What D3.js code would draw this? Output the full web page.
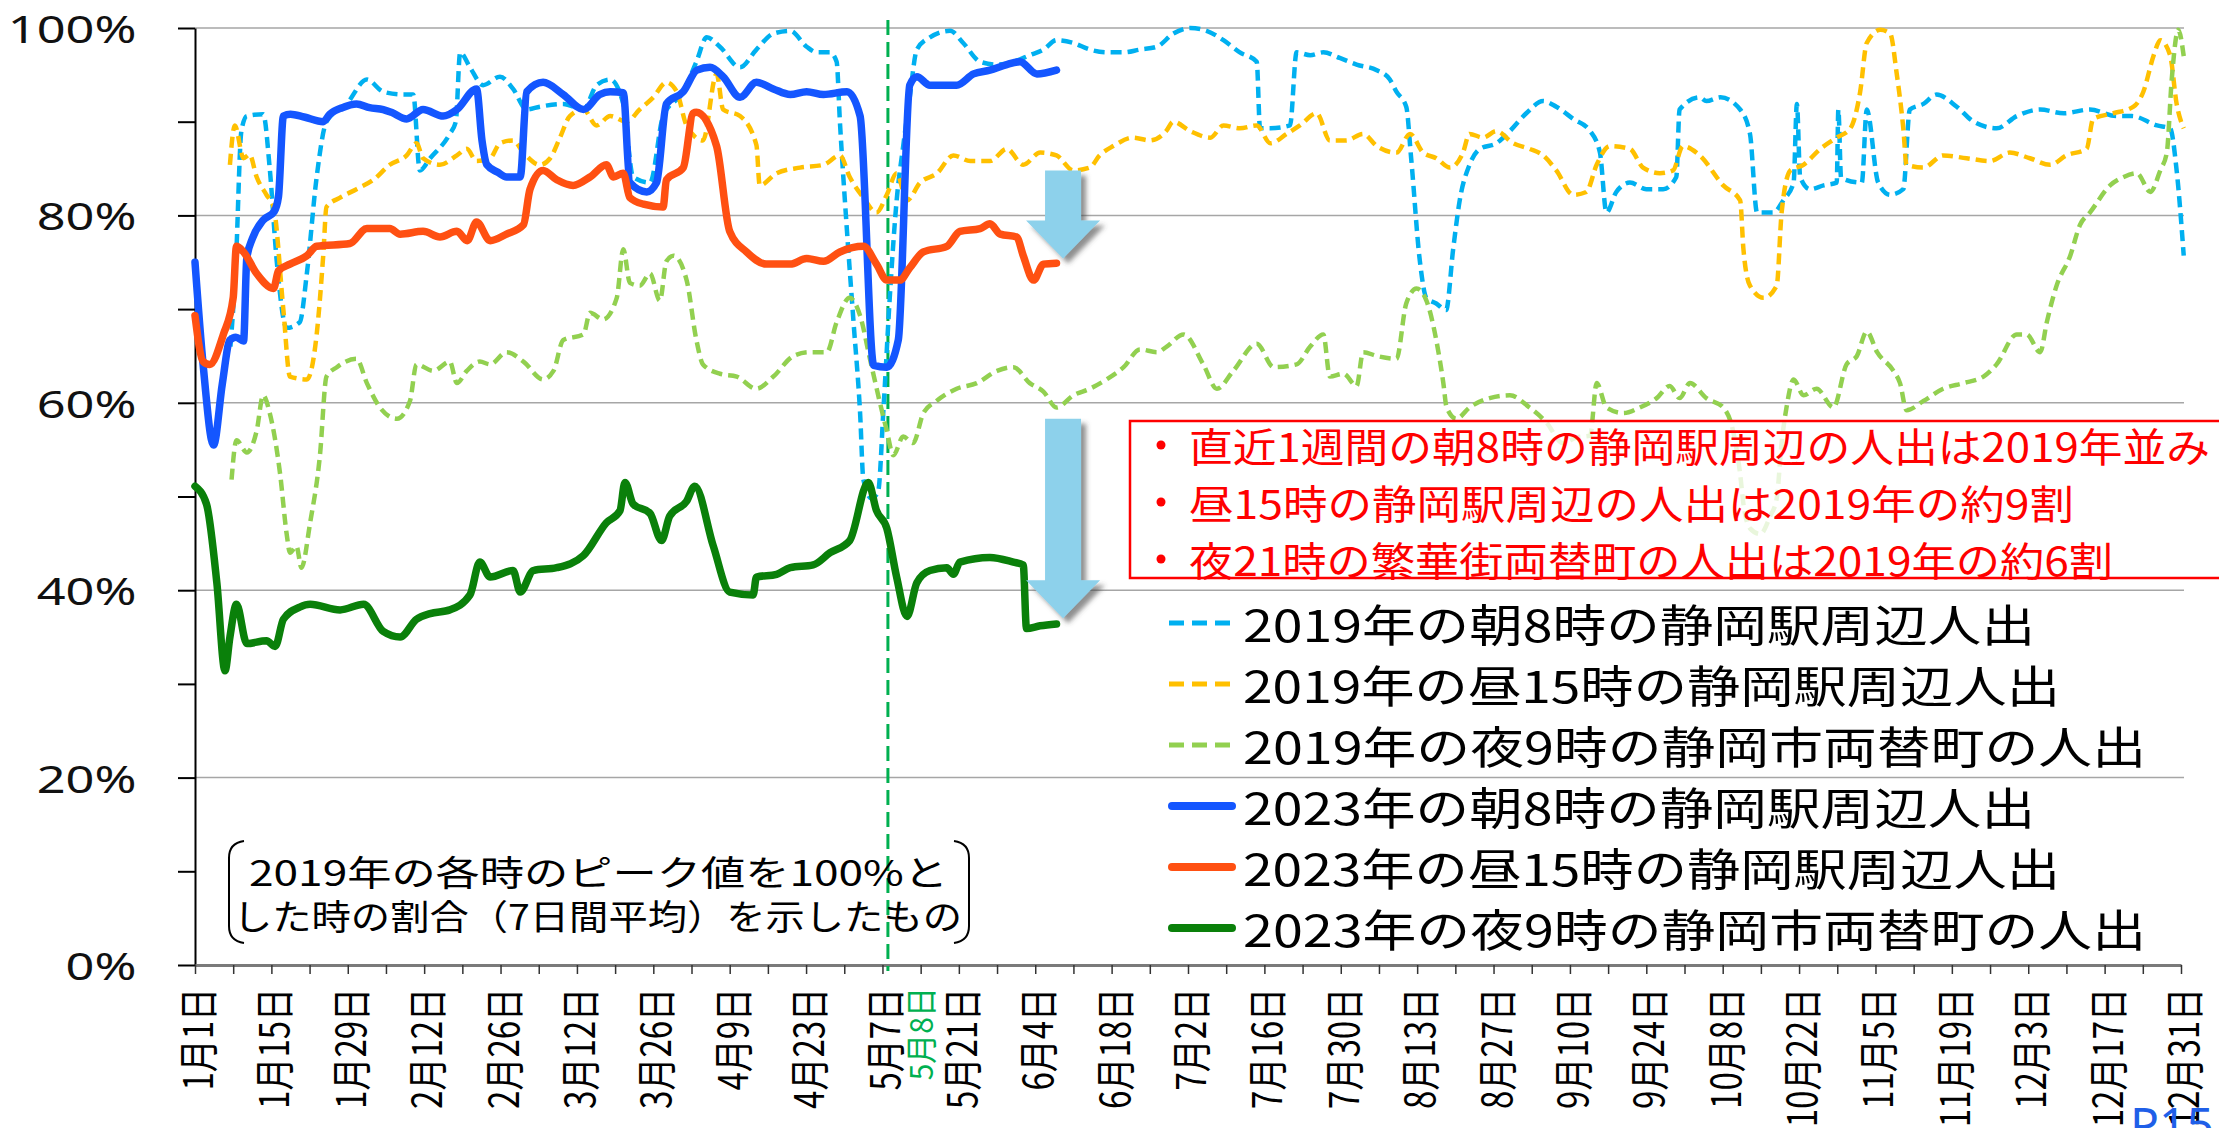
<!DOCTYPE html>
<html>
<head>
<meta charset="utf-8">
<script src="https://cdn.jsdelivr.net/npm/d3@7"></script>
<style>
  html, body { margin: 0; padding: 0; background: #fff; }
  svg { display: block; }
</style>
</head>
<body>
<svg id="chart" width="2219" height="1128"></svg>
<script>
// x = day of year (0 = 1月1日), y = % of the 2019 peak (7-day average)

// 2019 朝8時 静岡駅周辺
var am2019 = [[6.5,66],[7.5,75],[8.5,89],[9.5,90.6],[12.5,90.8],[13.7,85],[15,75],[16.8,68],[19.2,68.6],[20.5,73.8],[22.3,84.1],[24.1,90],[27.8,91.9],[31.5,94.5],[34.5,93.2],[38.2,92.9],[40,92.9],[41.2,84.8],[43.1,86.1],[46.7,88.7],[47.8,90],[48.6,97.4],[50.4,95.8],[52.8,93.9],[55.9,94.8],[58.3,93.5],[60.8,91.3],[63.2,91.6],[67.5,91.9],[71.2,91.3],[73.6,93.9],[76.1,94.5],[78.5,91.9],[80.3,84.1],[83.4,83.5],[85.8,90.6],[89.5,93.2],[91.9,96.4],[93.8,99],[96.2,98],[99.9,95.8],[102.9,97.7],[106,99.4],[109.1,99.7],[112.1,98],[114,97.4],[116.4,97.4],[117.6,96.4],[118.2,90],[119.5,78.3],[120.7,68.6],[121.9,58.9],[122.5,51.8],[124,49.8],[125.2,50.5],[126.2,59.5],[127.4,71.8],[128.6,81.6],[129.8,87.4],[131,92.6],[132.3,97.7],[134.7,99],[138.4,99.7],[140.8,98.4],[143.9,96.4],[146.9,96.1],[150,96.4],[153,97.1],[155.5,97.7],[157.9,98.7],[161,98.4],[164,97.7],[167.1,97.4],[170.2,97.4],[173.2,97.7],[176.3,98],[179.3,99.4],[182.4,100],[185.4,99.7],[188.5,98.7],[191.5,97.4],[194.6,96.4],[195.2,89.3],[197.1,89.3],[200.7,89.6],[201.9,97.4],[204.4,97.1],[206.8,97.4],[209.8,96.8],[212.9,96.1],[216.6,95.5],[219,94.5],[220.2,93.2],[222,91.6],[222.9,86.1],[224.5,75.1],[225.7,71.2],[227.5,70.6],[229.3,69.9],[230.6,76.4],[231.8,81.6],[233.6,85.4],[235.5,87.1],[238.5,87.7],[241,89],[244,90.9],[247.1,92.2],[249.5,91.6],[252.6,90.3],[255.7,89],[257.5,86.7],[258.7,80.3],[260.5,82.5],[263,83.5],[266,82.8],[269.1,82.8],[271.5,84.1],[272.1,91.3],[275.8,92.6],[277,92.2],[279.6,92.6],[283.2,91.3],[285,88.7],[286.3,80.3],[289.3,80.3],[291.1,81.6],[293,83.5],[293.6,91.9],[294.2,84.1],[296,82.8],[298.5,83.2],[300.9,83.5],[301.2,91.3],[301.7,84],[305.5,83.5],[306.4,91.3],[308.5,83.5],[310.7,82.2],[313.1,82.8],[314.3,91.3],[316.8,91.9],[319.2,92.9],[322.9,91.6],[326,90],[330.2,89.3],[333.9,90.6],[338.2,91.3],[342.5,90.9],[347.3,91.3],[352.2,90.6],[355,90.6],[359.6,89.6],[362,89.3],[363.2,84.8],[364.5,75.7]];

// 2019 昼15時 静岡駅周辺
var pm2019 = [[6.4,85.4],[7.3,89.6],[8.9,86.1],[10,86.5],[11.3,84.1],[13.1,82.2],[14.4,80.9],[16.2,69.9],[17.4,62.8],[20.5,62.5],[22.3,67.3],[23.5,75.7],[24.1,80.9],[26.6,81.9],[29.6,82.8],[32.7,83.8],[35.7,85.4],[38.8,86.4],[40.6,87.7],[41.8,86.1],[44.9,85.4],[48,86.4],[49.8,87.1],[51.6,85.8],[54.1,86.1],[55.9,87.7],[58.3,88],[60.2,86.7],[63.2,85.4],[65.1,86.1],[66.9,88.3],[68.7,90.6],[71.2,91.3],[73.6,89.6],[76.1,90.6],[79.1,90],[81.5,91.3],[84,92.6],[86.4,94.2],[88.3,93.2],[90.1,89.6],[93.1,88],[95.6,95.1],[96.8,91.3],[99.9,90.6],[102.9,87.5],[103.5,83.2],[106.6,84.5],[110.9,85.1],[115.2,85.4],[118.2,86.4],[120,84.1],[122.5,81.9],[124.9,80.3],[126.8,82.2],[128.6,84.5],[130.5,81.6],[132.9,83.5],[136,84.5],[139,86.4],[142.1,85.8],[145.7,85.8],[148.8,87.1],[151.8,85.4],[154.9,86.7],[157.9,86.4],[161,84.8],[164,85.1],[165.8,86.4],[168.3,87.4],[171.9,88.3],[175,88],[178,89],[179.3,90],[182.4,89],[186.1,88.3],[188.5,89.6],[191.5,89.3],[194.6,89.6],[197.1,87.7],[200.1,88.7],[202.5,89.6],[205.6,90.9],[208,88],[211,88],[214.1,88.7],[216.6,87.4],[220.2,86.7],[222.7,88.7],[225.1,86.7],[227.5,86.1],[230,85.1],[232.4,86.7],[233.6,88.7],[236.1,88.3],[238.5,89],[241.6,87.7],[244.6,87.1],[247.1,86.4],[249.5,84.8],[252.6,82.2],[255,82.5],[256.9,85.4],[259.3,87.4],[263,87.1],[265.4,85.1],[268.5,84.5],[270.9,84.8],[272.7,87.4],[275.8,86.4],[280.1,83.2],[283.2,81.6],[283.8,76.4],[285,72.5],[287.5,71.2],[289.9,72.5],[290.8,80.3],[292.4,84.8],[294.8,85.4],[297.9,87.1],[300.9,88.3],[303.4,89.3],[305.2,93.2],[306.4,98.4],[308.9,99.8],[310.7,99.4],[311.9,95.1],[313.1,89.3],[313.7,85.4],[316.8,85.1],[320.4,86.4],[324.7,86.1],[329,85.8],[332.6,86.7],[336.3,86.1],[340,85.4],[343,86.4],[346.7,87.1],[347.9,90.3],[351.6,90.9],[355.3,91.6],[357.1,93.2],[359,97.1],[360.2,98.7],[362,97.1],[363.2,91.9],[364.5,89.3]];

// 2019 夜9時 静岡市両替町
var night2019 = [[6.7,51.8],[7.6,56],[9.5,54.7],[11.3,57],[12.5,60.8],[13.7,58.9],[15.6,52.4],[16.8,46],[17.4,44],[18.6,44.7],[19.5,42.4],[21.1,47.2],[22.9,54.4],[24.1,62.8],[26,63.8],[29.6,64.7],[31.5,62.1],[33.9,59.5],[37,58.3],[39.4,60.2],[40.6,64.1],[43.7,63.4],[46.7,64.4],[48,62.1],[49.8,63.4],[52.2,64.4],[54.1,64.1],[57.1,65.4],[60.2,64.4],[63.8,62.5],[65.7,63.4],[67.5,66.7],[71.2,67.3],[72.4,69.6],[74.8,68.9],[77.3,71.2],[78.5,76.4],[79.7,72.8],[81.5,72.5],[83.4,73.8],[85.2,70.9],[86.4,75.1],[87.7,75.7],[90.1,73.1],[91.9,66.7],[93.1,64.1],[96.2,63.1],[99.3,62.8],[102.9,61.5],[106,62.8],[109.7,65],[112.7,65.4],[115.8,65.4],[117.6,68.6],[120,71.2],[121.9,69.3],[123.7,64.7],[125.5,60.1],[126.8,57],[128,54.4],[129.8,56.4],[131.6,55.7],[133.5,58.9],[135.9,60.2],[139.6,61.5],[143.3,62.1],[147,63.4],[150,63.8],[153,62.1],[155.5,61.2],[157.9,59.5],[161,60.8],[164,61.5],[167.1,62.5],[170.2,63.8],[173.2,65.7],[176.3,65.4],[178.1,66],[181.2,67.3],[184.8,64.1],[187.3,61.5],[190.3,63.4],[194.6,66.3],[197.7,63.8],[201.9,64.1],[204.4,66],[206.8,67.3],[208,62.8],[210.5,63.1],[212.9,61.8],[214.1,65.4],[216.6,65],[220.2,64.7],[222,70.6],[223.9,72.2],[225.7,70.9],[227.5,66.7],[228.8,62.1],[229.4,59.5],[231.2,58.3],[233.6,59.5],[237.3,60.5],[241,60.8],[244.6,59.5],[247.7,57.9],[250.7,55.7],[253.2,56.3],[255.7,56.5],[256.9,62.1],[258.7,59.5],[261.8,58.9],[264.8,59.5],[267.9,60.5],[270.3,61.8],[272.1,60.5],[274,62.1],[277,60.5],[280.1,59.5],[281.9,57],[283.2,52.4],[283.8,49.2],[285,46.6],[286.9,46],[288.7,47.9],[289.9,49.8],[290.8,55.7],[291.7,59.5],[293,62.5],[294.8,60.8],[297.2,61.5],[300.3,59.5],[302.7,64.1],[304.6,65],[306.4,67.6],[308.3,65.4],[311.3,63.4],[312.5,62.1],[313.7,59.2],[316.8,60.2],[320.4,61.5],[324.1,62.1],[327.8,62.8],[330.2,64.1],[333.9,67.3],[335.7,67.3],[338.2,65.4],[339.4,68.6],[341.2,72.5],[343.7,75.7],[345.5,79],[347.3,80.3],[351,83.2],[353.5,84.1],[355.9,84.5],[358.4,82.5],[360.2,84.8],[361.4,86.7],[362.3,94.5],[363.5,99.8],[364.5,97]];

// 2023 朝8時 静岡駅周辺
var am2023 = [[0,75],[1.5,64],[3.4,55.5],[5,62],[6.4,66.7],[7.5,67],[8.9,66.6],[9.5,75.5],[10.5,77.5],[12.5,79.5],[14.5,80.4],[15.3,82],[16.2,90.6],[17.5,90.8],[20,90.5],[23.5,90],[24.7,90.8],[27,91.5],[29.6,91.9],[32,91.5],[34.5,91.3],[36,91],[38.8,90.3],[41.8,91.3],[45.5,90.6],[48,91.3],[51.6,93.5],[52.6,88],[53.5,85.4],[55.5,84.6],[57.1,84.1],[59.6,84.1],[60.8,93.2],[63.8,94.2],[67.5,92.9],[71.2,91.3],[74.2,92.9],[76.1,93.2],[78.5,93.1],[79.7,83.5],[82.8,82.5],[84.6,83.5],[86.4,91.9],[89.5,93.2],[92,95.5],[94.4,95.8],[96.8,94.8],[99.9,92.6],[102.9,94.2],[106,93.5],[109.1,92.9],[112.1,93.2],[115.2,92.9],[119.5,93.2],[121.9,90.6],[124.4,64],[126.8,63.8],[128.9,66.7],[131,93.9],[132.3,94.8],[134.7,93.9],[139.6,93.9],[142.7,95.1],[145.7,95.5],[148.8,96.1],[151.2,96.4],[154.3,95.1],[157.9,95.5]];

// 2023 昼15時 静岡駅周辺
var pm2023 = [[0,69.3],[1.5,64.4],[2.7,64.1],[5.2,67.3],[7,71.2],[7.6,76.7],[8.9,76.1],[11.3,73.8],[14.4,72.2],[15.3,74.1],[17.4,74.8],[20.5,75.7],[22.3,76.7],[28.4,77],[31.5,78.6],[35.7,78.6],[37.6,78],[41.8,78.3],[44.9,77.7],[48,78.3],[49.9,77.3],[51.6,79.3],[54.1,77.3],[57.1,78],[60.2,79],[61.4,82.8],[63.8,84.8],[66.3,83.8],[69.3,83.2],[72.4,84.1],[75.4,85.4],[76.7,84.1],[78.5,84.5],[79.7,81.9],[82.2,81.2],[85.8,80.9],[86.4,83.8],[89.5,85.1],[91.3,90.9],[91.9,91],[95.6,87.4],[98,78.3],[101.1,76.1],[104.7,74.8],[109.1,74.8],[112.1,75.4],[115.2,75.1],[118.2,76.1],[122.5,76.7],[124.9,74.8],[126.8,73.1],[129.2,73.1],[131,74.4],[133.5,76.1],[137.8,76.7],[140.2,78.3],[143.9,78.6],[145.7,79.1],[147.6,78],[150.6,77.7],[151.8,75.7],[153.7,73.1],[155.5,74.8],[157.9,74.9]];

// 2023 夜9時 静岡市両替町
var night2023 = [[0,51.1],[2.1,49.2],[4,40.8],[5.5,31.4],[6.4,35],[7.6,38.5],[9.5,34.3],[13.1,34.6],[14.7,34],[16.2,36.9],[19.2,38.2],[21.1,38.5],[26.6,37.9],[30.9,38.5],[34.5,35.6],[37.6,35],[40.6,36.9],[43.1,37.5],[46.7,37.9],[50.4,39.5],[52.2,43],[54.1,41.4],[58.3,42.1],[59.6,39.8],[62,42.1],[66.3,42.4],[71.2,43.7],[75.4,47.2],[77.9,48.5],[78.8,51.5],[80.3,49.2],[83.4,48.2],[85.5,45.3],[87,47.9],[90.1,49.5],[91.6,51.1],[95,44.7],[98,39.8],[102.3,39.5],[102.9,41.4],[106.6,41.7],[109.1,42.4],[113.3,42.7],[116.4,44],[120,45.3],[123.4,51.5],[124.9,48.5],[126.8,46.6],[128.6,41.4],[130.5,37.2],[132.3,40.8],[134.7,42.1],[137.8,42.4],[139,41.7],[140.2,43],[145.7,43.5],[150,43],[151.8,42.7],[152.4,35.9],[154.9,36.2],[157.9,36.4]];

var seriesNames = ["2019年の朝8時の静岡駅周辺人出", "2019年の昼15時の静岡駅周辺人出", "2019年の夜9時の静岡市両替町の人出",
                   "2023年の朝8時の静岡駅周辺人出", "2023年の昼15時の静岡駅周辺人出", "2023年の夜9時の静岡市両替町の人出"];
var seriesColors = ["#00B0F0", "#FFC000", "#92D050", "#1456FF", "#FF5012", "#0A800A"];

// x tick labels, one every two weeks
var dateLabels = ["1月1日","1月15日","1月29日","2月12日","2月26日","3月12日","3月26日","4月9日","4月23日","5月7日","5月21日","6月4日","6月18日",
                  "7月2日","7月16日","7月30日","8月13日","8月27日","9月10日","9月24日","10月8日","10月22日","11月5日","11月19日","12月3日","12月17日","12月31日"];

var markDay = 127; // 5月8日
var notes = ["直近1週間の朝8時の静岡駅周辺の人出は2019年並み", "昼15時の静岡駅周辺の人出は2019年の約9割", "夜21時の繁華街両替町の人出は2019年の約6割"];
var noteLines = ["2019年の各時のピーク値を100%と", "した時の割合（7日間平均）を示したもの"];
// arrows: day, from value, to value
var arrows = [[159.1, 84.8, 75.4], [159.1, 58.3, 37.0]];

var JP = "'Noto Sans CJK JP', 'Noto Sans', sans-serif";

var svg = d3.select("#chart");
var x = d3.scaleLinear().domain([0, 364]).range([195, 2181]);
var y = d3.scaleLinear().domain([0, 100]).range([965, 28]);

var defs = svg.append("defs");
var sh = defs.append("filter").attr("id", "shadow").attr("x", "-30%").attr("y", "-30%").attr("width", "160%").attr("height", "160%");
sh.append("feDropShadow").attr("dx", 5).attr("dy", 5).attr("stdDeviation", 2.5)
  .attr("flood-color", "#444").attr("flood-opacity", 0.6);

// gridlines
svg.append("g").selectAll("line").data([20, 40, 60, 80, 100]).join("line")
  .attr("x1", x(0)).attr("x2", x(364) + 3)
  .attr("y1", d => y(d)).attr("y2", d => y(d))
  .attr("stroke", "#a6a6a6").attr("stroke-width", 1.5);

// y axis
var yAxis = svg.append("g").attr("transform", "translate(" + x(0) + ",0)")
  .call(d3.axisLeft(y).tickValues(d3.range(0, 101, 10)).tickSize(17).tickSizeOuter(0)
    .tickFormat(d => d % 20 === 0 ? d + "%" : ""));
yAxis.select(".domain").attr("stroke", "#000").attr("stroke-width", 2);
yAxis.selectAll(".tick line").attr("stroke", "#000").attr("stroke-width", 2);
yAxis.selectAll(".tick text")
  .attr("x", -44).attr("dy", "0.38em").attr("transform", "scale(1.33,1)")
  .style("font-family", "'Noto Sans', sans-serif").style("font-size", "38px").attr("fill", "#111");

// x axis
var xAxis = svg.append("g").attr("transform", "translate(0," + y(0) + ")")
  .call(d3.axisBottom(x).tickValues(d3.range(0, 365, 7)).tickSize(9).tickSizeOuter(0)
    .tickFormat((d, i) => i % 2 === 0 ? dateLabels[i / 2] : ""));
xAxis.select(".domain").attr("stroke", "#7a7a7a").attr("stroke-width", 3);
xAxis.selectAll(".tick line").attr("stroke", "#333").attr("stroke-width", 1.5);
xAxis.selectAll(".tick text")
  .attr("x", 0).attr("y", 0).attr("dy", 0)
  .attr("transform", "translate(0,23) scale(1.22,1) rotate(-90)")
  .attr("text-anchor", "end").attr("dominant-baseline", "central")
  .style("font-family", JP).style("font-size", "33px").attr("fill", "#000");

// 5/8 marker
svg.append("line")
  .attr("x1", x(markDay)).attr("x2", x(markDay)).attr("y1", 20).attr("y2", y(0) + 6)
  .attr("stroke", "#00B050").attr("stroke-width", 3).attr("stroke-dasharray", "15,7");
svg.append("text")
  .attr("transform", "translate(" + (x(markDay) + 31) + "," + (y(0) + 22) + ") scale(1.05,1) rotate(-90)")
  .attr("text-anchor", "end").attr("dominant-baseline", "central")
  .style("font-family", JP).style("font-size", "30px").attr("fill", "#00B050")
  .text("5月8日");

// lines
var line = d3.line().x(d => x(d[0])).y(d => y(d[1])).curve(d3.curveMonotoneX);
var series = [am2019, pm2019, night2019, am2023, pm2023, night2023].map((v, i) => ({
  name: seriesNames[i], values: v, color: seriesColors[i], dashed: i < 3
}));
svg.append("g").selectAll("path").data(series).join("path")
  .attr("d", d => line(d.values))
  .attr("fill", "none")
  .attr("stroke", d => d.color)
  .attr("stroke-width", d => d.dashed ? 4.5 : 7.5)
  .attr("stroke-dasharray", d => d.dashed ? "11,6" : null)
  .attr("stroke-linejoin", "round")
  .attr("stroke-linecap", d => d.dashed ? "butt" : "round");

// arrows
var sw = 18, hw = 37, hh = 38;
svg.append("g").selectAll("path").data(arrows).join("path")
  .attr("d", d => {
    var cx = x(d[0]), t = y(d[1]), b = y(d[2]);
    return "M" + (cx - sw) + "," + t + "H" + (cx + sw) + "V" + (b - hh) + "H" + (cx + hw) +
      "L" + cx + "," + b + "L" + (cx - hw) + "," + (b - hh) + "H" + (cx - sw) + "Z";
  })
  .attr("fill", "#8DD1EB").attr("filter", "url(#shadow)");

// red note box
var box = svg.append("g");
box.append("rect").attr("x", 1130).attr("y", 421).attr("width", 1120).attr("height", 157)
  .attr("fill", "#fff").attr("fill-opacity", 0.8).attr("stroke", "#FF0000").attr("stroke-width", 2.5);
var noteLen = [1021, 885, 924];
notes.forEach((t, i) => {
  var cy = 445 + i * 57;
  box.append("circle").attr("cx", 1161).attr("cy", cy).attr("r", 4.5).attr("fill", "#FF0000");
  box.append("text").attr("x", 1189).attr("y", cy).attr("dominant-baseline", "central")
    .attr("textLength", noteLen[i]).attr("lengthAdjust", "spacingAndGlyphs")
    .style("font-family", JP).style("font-size", "40px").attr("fill", "#FF0000").text(t);
});

// legend
var legLen = [792, 817, 903, 792, 817, 903];
var leg = svg.append("g").selectAll("g").data(series).join("g")
  .attr("transform", (d, i) => "translate(0," + (623 + i * 61) + ")");
leg.append("line").attr("x1", d => d.dashed ? 1169 : 1172).attr("x2", d => d.dashed ? 1236 : 1232)
  .attr("y1", 0).attr("y2", 0)
  .attr("stroke", d => d.color).attr("stroke-width", d => d.dashed ? 5 : 8)
  .attr("stroke-dasharray", d => d.dashed ? "15,8" : null)
  .attr("stroke-linecap", d => d.dashed ? "butt" : "round");
leg.append("text").attr("x", 1243).attr("y", 0).attr("dominant-baseline", "central")
  .attr("textLength", (d, i) => legLen[i]).attr("lengthAdjust", "spacingAndGlyphs")
  .style("font-family", JP).style("font-size", "44px").attr("fill", "#000")
  .text(d => d.name);

// bracketed note
var nb = svg.append("g");
nb.append("path").attr("d", "M244,841 Q229,843 229,858 V926 Q229,941 244,943")
  .attr("fill", "none").attr("stroke", "#000").attr("stroke-width", 2);
nb.append("path").attr("d", "M954,841 Q969,843 969,858 V926 Q969,941 954,943")
  .attr("fill", "none").attr("stroke", "#000").attr("stroke-width", 2);
var nbStart = [249, 233], nbLen = [699, 729];
noteLines.forEach((t, i) => {
  nb.append("text").attr("x", nbStart[i]).attr("y", 870 + i * 44).attr("dominant-baseline", "central")
    .attr("textLength", nbLen[i]).attr("lengthAdjust", "spacingAndGlyphs")
    .style("font-family", JP).style("font-size", "35px").attr("fill", "#000").text(t);
});

// page number, cut at the bottom edge
svg.append("text").attr("x", 2130).attr("y", 1142)
  .style("font-family", "'Noto Sans', sans-serif").style("font-size", "48px").attr("fill", "#1F5FE8")
  .text("P15");
</script>
</body>
</html>
